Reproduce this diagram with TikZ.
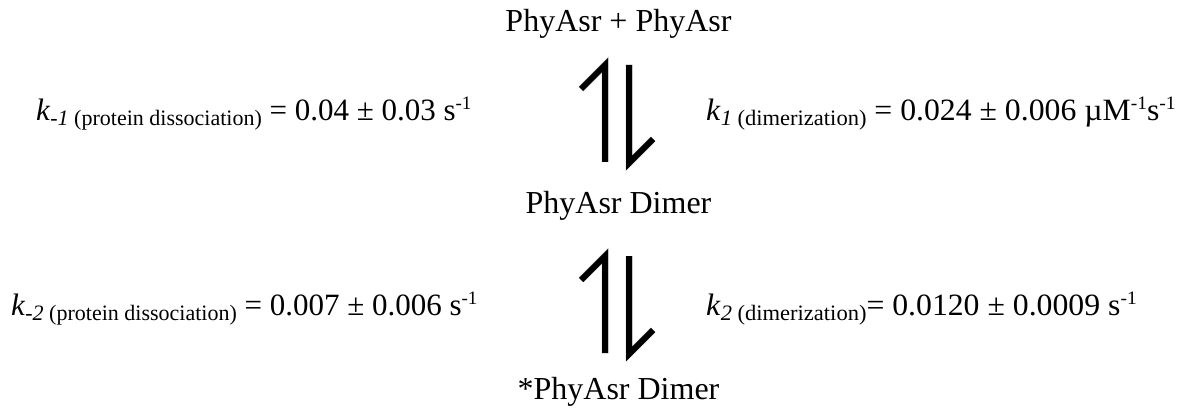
\documentclass[tikz,border=0pt]{standalone}
\usepackage{fontspec}
\usepackage{graphicx}
\setmainfont{Liberation Serif}
\newcommand{\namef}{\fontsize{32}{36}\selectfont}
\newcommand{\eqf}{\fontsize{31}{35}\selectfont}
\newcommand{\subf}[1]{\raisebox{-5pt}{\fontsize{22}{24}\selectfont #1}}
\newcommand{\supf}[1]{\raisebox{11pt}{\fontsize{19}{21}\selectfont #1}}
\begin{document}
\begin{tikzpicture}[x=1pt,y=-1pt,
  species/.style={inner sep=0pt,font=\namef,anchor=base},
  eqn/.style={inner sep=0pt,font=\eqf,anchor=base west},
  harp/.style={line width=6pt,line cap=butt,line join=miter},
  shade/.style={line width=7pt,line cap=butt,line join=miter,black!18}]
\useasboundingbox (0,0) rectangle (1186,409);
\node[species] (top) at (618.5,32) {PhyAsr + PhyAsr};
\node[species] (mid) at (618.5,213) {PhyAsr Dimer};
\node[species] (bot) at (618.5,399) {*PhyAsr Dimer};
\node[eqn] (km1) at (36,121) {\textit{k}\subf{\textit{-1} (protein dissociation)} = 0.04 ± 0.03 s\supf{-1}};
\node[eqn] (k1) at (706,121) {\scalebox{1.024}[1]{\textit{k}\subf{\textit{1} (dimerization)} = 0.024 ± 0.006 µM\supf{-1}s\supf{-1}}};
\node[eqn] (km2) at (11,315) {\textit{k}\subf{\textit{-2} (protein dissociation)} = 0.007 ± 0.006 s\supf{-1}};
\node[eqn] (k2) at (706,315) {\scalebox{1.024}[1]{\textit{k}\subf{\textit{2} (dimerization)}= 0.0120 ± 0.0009 s\supf{-1}}};
% harpoons between PhyAsr + PhyAsr and PhyAsr Dimer
\coordinate (a1l) at (605,162);
\coordinate (a1lt) at (605,65);
\coordinate (a1lb) at (581,89);
\coordinate (a1r) at (629,65);
\coordinate (a1rb) at (629,163);
\coordinate (a1rt) at (653,139);
% harpoons between PhyAsr Dimer and *PhyAsr Dimer
\coordinate (a2l) at (605,353);
\coordinate (a2lt) at (605,256);
\coordinate (a2lb) at (581,280);
\coordinate (a2r) at (629,256);
\coordinate (a2rb) at (629,354);
\coordinate (a2rt) at (653,330);
\begin{scope}[shift={(1.5,2)}]
\draw[shade] (a1l) -- (a1lt) -- (a1lb);
\draw[shade] (a1r) -- (a1rb) -- (a1rt);
\draw[shade] (a2l) -- (a2lt) -- (a2lb);
\draw[shade] (a2r) -- (a2rb) -- (a2rt);
\end{scope}
\draw[harp] (a1l) -- (a1lt) -- (a1lb);
\draw[harp] (a1r) -- (a1rb) -- (a1rt);
\draw[harp] (a2l) -- (a2lt) -- (a2lb);
\draw[harp] (a2r) -- (a2rb) -- (a2rt);
\end{tikzpicture}
\end{document}
